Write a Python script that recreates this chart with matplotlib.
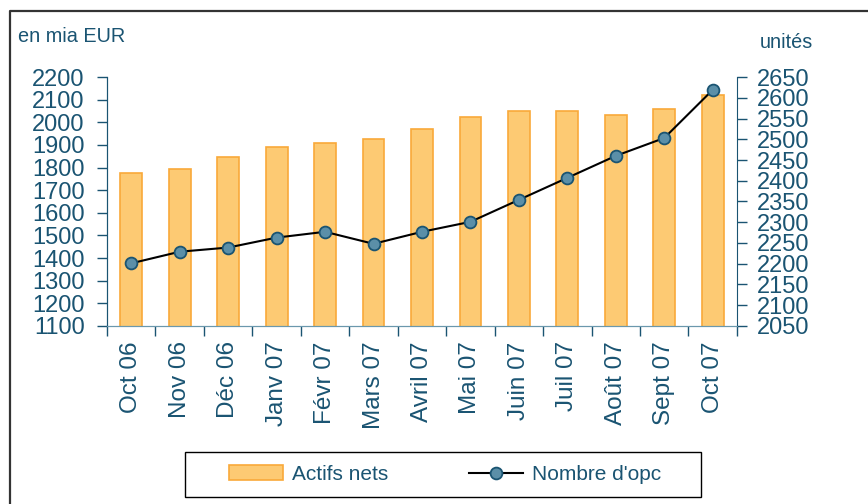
import matplotlib
matplotlib.use("Agg")
import matplotlib.pyplot as plt
from matplotlib.lines import Line2D
from matplotlib.patches import Rectangle
from matplotlib.ticker import MultipleLocator, FixedLocator

plt.rcParams["font.family"] = ["Liberation Sans", "DejaVu Sans"]

TEXT_COLOR = "#1a5472"

months = ["Oct 06", "Nov 06", "Déc 06", "Janv 07", "Févr 07", "Mars 07",
          "Avril 07", "Mai 07", "Juin 07", "Juil 07", "Août 07", "Sept 07", "Oct 07"]
actifs_nets = [1777, 1795, 1848, 1892, 1910, 1928, 1972, 2025, 2051, 2051, 2034, 2060, 2121]
nombre_opc = [2201, 2229, 2239, 2263, 2277, 2248, 2277, 2301, 2354, 2407, 2460, 2503, 2619]


def main():
    fig = plt.figure(figsize=(8.68, 5.04), dpi=100)
    ax = fig.add_axes([0.1233, 0.3532, 0.7257, 0.494])
    ax2 = ax.twinx()

    x = list(range(len(months)))
    ax.bar(x, actifs_nets, width=0.45, color="#fdca73", edgecolor="#f9a93a",
           linewidth=1.2, label="Actifs nets")
    ax2.plot(x, nombre_opc, color="black", linewidth=1.5, marker="o",
             markersize=8.5, markerfacecolor="#5b8fa8", markeredgecolor="#1a5472",
             markeredgewidth=1.3, label="Nombre d'opc")

    ax.set_xlim(-0.5, len(months) - 0.5)
    ax.set_ylim(1100, 2200)
    ax2.set_ylim(2050, 2650)
    ax.yaxis.set_major_locator(MultipleLocator(100))
    ax2.yaxis.set_major_locator(MultipleLocator(50))

    ax.set_xticks(x)
    ax.set_xticklabels(months, rotation=90, fontsize=17.5, color=TEXT_COLOR)
    ax.xaxis.set_minor_locator(FixedLocator([i - 0.5 for i in range(len(months) + 1)]))
    ax.tick_params(axis="x", which="major", length=0, pad=11)
    ax.tick_params(axis="x", which="minor", length=7, width=1, color=TEXT_COLOR)
    ax.tick_params(axis="y", length=7, width=1, color=TEXT_COLOR,
                   labelsize=17, labelcolor=TEXT_COLOR, pad=9)
    ax2.tick_params(axis="y", length=7, width=1, color=TEXT_COLOR,
                    labelsize=17, labelcolor=TEXT_COLOR, pad=7.5)

    for a in (ax, ax2):
        a.spines["top"].set_visible(False)
        a.spines["left"].set_color(TEXT_COLOR)
        a.spines["right"].set_color(TEXT_COLOR)
        a.spines["bottom"].set_color("#6b98ad")
    ax.spines["right"].set_visible(False)

    fig.text(18 / 868, 1 - 37 / 504, "en mia EUR", fontsize=14.3,
             color=TEXT_COLOR, va="center", ha="left")
    fig.text(786 / 868, 1 - 42 / 504, "unités", fontsize=14.3,
             color=TEXT_COLOR, va="center", ha="center")

    # outer frame (left and top only)
    fig.add_artist(Line2D([10 / 868, 10 / 868, 1], [0, 1 - 11 / 504, 1 - 11 / 504],
                          transform=fig.transFigure, color="#333333", linewidth=1.6))

    # legend box drawn separately so the padding can match
    fig.add_artist(Rectangle((185 / 868, 1 - 497 / 504), 516 / 868, 45 / 504,
                             transform=fig.transFigure, facecolor="white",
                             edgecolor="black", linewidth=1.0))
    handles = [ax.containers[0], ax2.lines[0]]
    leg = fig.legend(handles, ["Actifs nets", "Nombre d'opc"], loc="center",
                     bbox_to_anchor=(0.5127, 1 - 474.5 / 504), ncol=2, fontsize=15,
                     frameon=False, handlelength=2.6, handletextpad=0.4,
                     columnspacing=3.9)
    for t in leg.get_texts():
        t.set_color(TEXT_COLOR)

    fig.savefig("out.png", dpi=100)


if __name__ == "__main__":
    main()
